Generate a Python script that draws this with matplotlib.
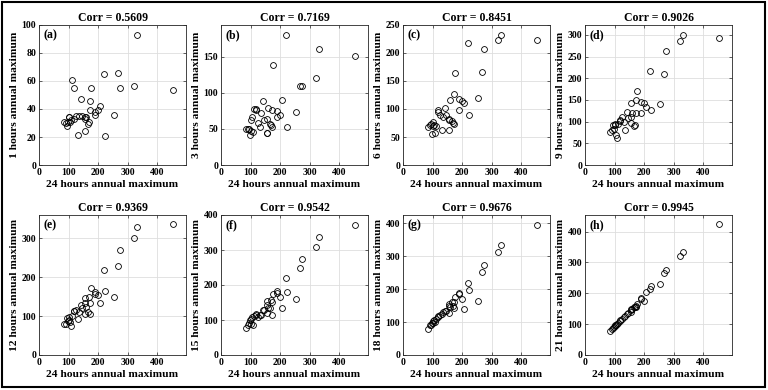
# Scatter of the n-hours annual maxima against the 24 hours annual maximum
import numpy as np
import matplotlib.pyplot as plt
from matplotlib.patches import Rectangle

# Data
# 24 hours annual maximum (common abscissa of every panel)
X_24H = [83, 90, 94, 97, 100, 103, 105, 108, 112, 117, 120, 126, 131, 134,
         142, 146, 155, 156, 157, 160, 166, 168, 172, 173, 176, 189, 191,
         201, 206, 219, 223, 253, 268, 273, 322, 333, 452]

# n hours annual maxima
Y_1H = [31, 30, 28, 31, 34.5, 34.5, 31, 32, 60.7, 55, 33, 35, 21.5, 35,
        47, 35, 34, 33, 24, 34, 29, 31, 46, 39, 55, 36, 38,
        39, 42.4, 65, 20.5, 35.7, 66, 55, 56.7, 93, 53.6]
Y_3H = [50, 50, 50, 41, 47, 62, 67, 46, 78, 76, 77, 58, 53, 72,
        88, 62, 45, 45, 64, 79, 57, 55, 76, 52, 138, 75, 66,
        69, 90, 180, 53, 73, 110, 109, 120, 161, 151]
Y_6H = [67, 71, 73, 56, 70, 77, 71, 57, 69, 98, 94, 89, 63, 86,
        102, 90, 80, 62, 82, 116, 79, 75, 127, 73, 165, 117, 99,
        114, 110, 217, 90, 120, 166, 208, 223, 232, 224]
Y_9H = [75, 80, 92, 82, 93, 94, 69, 63, 95, 102, 104, 110, 100, 81,
        123, 108, 144, 96, 110, 120, 91, 92, 150, 121, 171, 146, 121,
        142, 133, 218, 127, 140, 210, 262, 286, 300, 294]
Y_12H = [79, 81, 96, 88, 90, 99, 84, 75, 100, 114, 112, 116, 93, 111,
         129, 122, 147, 105, 135, 123, 111, 150, 135, 105, 173, 163, 157,
         154, 133, 218, 165, 150, 229, 270, 300, 330, 336]
Y_15H = [78, 85, 92, 99, 88, 102, 109, 85, 112, 118, 113, 110, 115, 113,
         128, 128, 154, 120, 142, 135, 135, 156, 151, 113, 175, 184, 178,
         165, 134, 220, 180, 160, 248, 274, 309, 336, 371]
Y_18H = [80, 90, 92, 98, 96, 103, 105, 100, 110, 115, 118, 120, 125, 130,
         135, 133, 150, 128, 155, 145, 160, 150, 162, 143, 177, 189, 185,
         169, 140, 220, 196, 164, 253, 273, 312, 334, 395]
Y_21H = [78, 83, 87, 90, 94, 97, 98, 100, 104, 110, 112, 117, 122, 125,
         132, 136, 145, 140, 148, 150, 155, 157, 160, 156, 167, 180, 186,
         175, 205, 215, 225, 230, 265, 275, 322, 335, 424]

# Panel texts
DURATIONS = [1, 3, 6, 9, 12, 15, 18, 21]
CORR = ["0.5609", "0.7169", "0.8451", "0.9026", "0.9369", "0.9542", "0.9676", "0.9945"]
LETTERS = ["a", "b", "c", "d", "e", "f", "g", "h"]
# Upper y limit and y ticks step for each panel
Y_TOP = [100, 194, 250, 323, 360, 400, 425, 454]
Y_STEP = [20, 50, 50, 50, 100, 100, 100, 100]

Y_ALL = [Y_1H, Y_3H, Y_6H, Y_9H, Y_12H, Y_15H, Y_18H, Y_21H]

# Fonts (Times-like, bold as in the original figure)
plt.rcParams['font.family'] = ['Liberation Serif', 'DejaVu Serif']
plt.rcParams['font.weight'] = 'bold'

fig = plt.figure(figsize=(7.68, 3.9), dpi=100)

# Axes geometry in pixels
C_W, C_H = 768, 390
C_LEFTS = [39, 221, 403, 585]
C_BOTTOMS = [165, 355]
C_AX_W, C_AX_H = 147, 140

axis_color = (0.15, 0.15, 0.15)

for n in range(8):
    row, col = divmod(n, 4)
    ax = fig.add_axes([C_LEFTS[col] / C_W, (C_H - C_BOTTOMS[row]) / C_H,
                       C_AX_W / C_W, C_AX_H / C_H])
    ax.plot(X_24H, Y_ALL[n], linestyle='none', marker='o', markersize=4.2,
            markerfacecolor='none', markeredgecolor='black', markeredgewidth=0.6)
    ax.set_xlim(0, 497)
    ax.set_ylim(0, Y_TOP[n])
    ax.set_xticks(np.arange(0, 401, 100))
    ax.set_yticks(np.arange(0, Y_TOP[n] + 0.1, Y_STEP[n]))
    ax.grid(True, color=(0.87, 0.87, 0.87), linewidth=0.6)
    ax.set_axisbelow(True)
    ax.tick_params(direction='in', length=2, width=0.5, labelsize=7,
                   colors=axis_color, labelcolor='black', pad=2,
                   top=True, right=True)
    for sp in ax.spines.values():
        sp.set_color(axis_color)
        sp.set_linewidth(0.6)
    ax.set_title("Corr = " + CORR[n], fontsize=8.5, fontweight='bold', pad=3)
    ax.set_xlabel("24 hours annual maximum", fontsize=8.2, fontweight='bold', labelpad=2)
    ax.set_ylabel(str(DURATIONS[n]) + " hours annual maximum", fontsize=8.2,
                  fontweight='bold', labelpad=2)
    ax.text(0.03, 0.97, "(" + LETTERS[n] + ")", transform=ax.transAxes,
            ha='left', va='top', fontsize=8.5, fontweight='bold')

# Outer frame of the figure
fig.patches.append(Rectangle((0.003, 0.008), 0.993, 0.987, transform=fig.transFigure,
                             fill=False, edgecolor='black', linewidth=1.5))

plt.savefig("out.png", dpi=100)
